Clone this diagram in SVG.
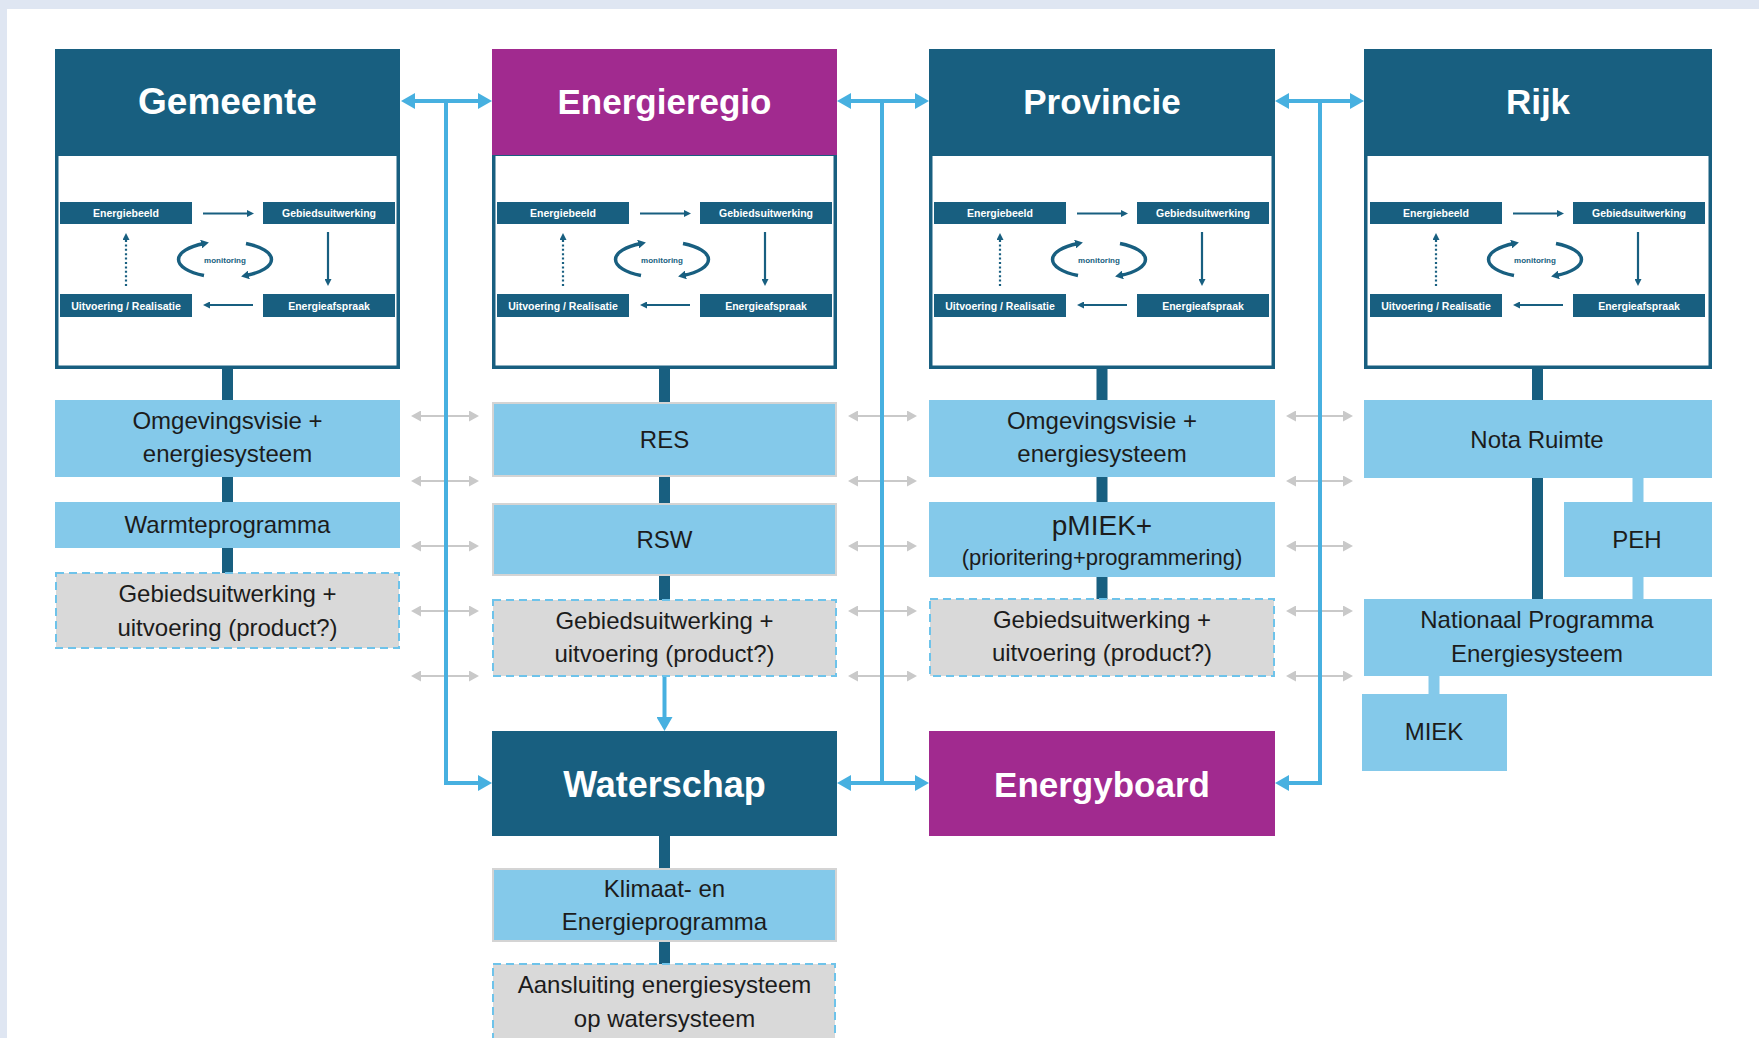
<svg xmlns="http://www.w3.org/2000/svg" width="1759" height="1038" viewBox="0 0 1759 1038">
<style>
.frame{fill:#185f80}
.inner{fill:#ffffff}
.hd{fill:#185f80}
.hp{fill:#a12a8f}
.title{font-family:"Liberation Sans",Arial,sans-serif;font-weight:bold;font-size:35px;fill:#ffffff;text-anchor:middle}
.mbox{fill:#185f80}
.mtxt{font-family:"Liberation Sans",Arial,sans-serif;font-weight:bold;font-size:10.5px;fill:#ffffff;text-anchor:middle}
.mon{font-family:"Liberation Sans",Arial,sans-serif;font-weight:bold;font-size:8px;fill:#185f80;text-anchor:middle}
.marrow{stroke:#185f80;stroke-width:2.2;fill:none;marker-end:url(#mHead)}
.mdot{stroke:#185f80;stroke-width:2.2;fill:none;stroke-dasharray:2 2.4;marker-end:url(#mHead)}
.arc{stroke:#185f80;stroke-width:3.5;fill:none;marker-end:url(#arcHead)}
.lb{fill:#84c9ea}
.lbb{fill:#84c9ea;stroke:#d4d4d4;stroke-width:2}
.gb{fill:#d9d9d9;stroke:#6ec3ea;stroke-width:2;stroke-dasharray:8 5}
.txt{font-family:"Liberation Sans",Arial,sans-serif;font-size:24px;fill:#1c1c1c;text-anchor:middle}
.stem{stroke:#185f80;stroke-width:11;fill:none}
.lstem{stroke:#84c9ea;stroke-width:11;fill:none}
.conn{stroke:#47b0e0;stroke-width:4;fill:none}
.both{marker-start:url(#bHead);marker-end:url(#bHead)}
.end{marker-end:url(#bHead)}
.gray{stroke:#c9c9c9;stroke-width:2;fill:none;marker-start:url(#gHead);marker-end:url(#gHead)}
</style>
<defs>
<marker id="mHead" markerUnits="userSpaceOnUse" viewBox="0 0 7 7" markerWidth="7" markerHeight="7" refX="2" refY="3.5" orient="auto"><path d="M0,0 L7,3.5 L0,7 z" fill="#185f80"/></marker>
<marker id="arcHead" markerUnits="userSpaceOnUse" viewBox="0 0 8 9" markerWidth="8" markerHeight="9" refX="3" refY="4.5" orient="auto"><path d="M0,0 L8,4.5 L0,9 z" fill="#185f80"/></marker>
<marker id="bHead" markerUnits="userSpaceOnUse" viewBox="0 0 14 16" markerWidth="14" markerHeight="16" refX="8" refY="8" orient="auto-start-reverse"><path d="M0,0 L14,8 L0,16 z" fill="#47b0e0"/></marker>
<marker id="gHead" markerUnits="userSpaceOnUse" viewBox="0 0 10 11" markerWidth="10" markerHeight="11" refX="5" refY="5.5" orient="auto-start-reverse"><path d="M0,0 L10,5.5 L0,11 z" fill="#c9c9c9"/></marker>
</defs>

<rect x="0" y="0" width="1759" height="1038" fill="#ffffff"/>
<rect x="0" y="0" width="1759" height="9" fill="#dfe6f2"/>
<rect x="0" y="0" width="7" height="1038" fill="#dfe6f2"/>

<g id="connectors">
  <path class="gray" d="M416,416 H474"/>
  <path class="gray" d="M416,481 H474"/>
  <path class="gray" d="M416,546 H474"/>
  <path class="gray" d="M416,611 H474"/>
  <path class="gray" d="M416,676 H474"/>
  <path class="gray" d="M853,416 H912"/>
  <path class="gray" d="M853,481 H912"/>
  <path class="gray" d="M853,546 H912"/>
  <path class="gray" d="M853,611 H912"/>
  <path class="gray" d="M853,676 H912"/>
  <path class="gray" d="M1291,416 H1348"/>
  <path class="gray" d="M1291,481 H1348"/>
  <path class="gray" d="M1291,546 H1348"/>
  <path class="gray" d="M1291,611 H1348"/>
  <path class="gray" d="M1291,676 H1348"/>

  <path class="conn both" d="M407,101 H486"/>
  <path class="conn both" d="M843,101 H923"/>
  <path class="conn both" d="M1281,101 H1358"/>
  <path class="conn end" d="M446,101 V783 H486"/>
  <path class="conn" d="M882,101 V783"/>
  <path class="conn both" d="M843,783 H923"/>
  <path class="conn end" d="M1320,101 V783 H1281"/>
  <path class="conn end" d="M664.5,676 V725"/>

  <path class="stem" d="M227.5,366 V400 M227.5,477 V502 M227.5,548 V573"/>
  <path class="stem" d="M664.5,366 V402 M664.5,477 V503 M664.5,576 V600"/>
  <path class="stem" d="M1102,366 V400 M1102,477 V502 M1102,577 V599"/>
  <path class="stem" d="M1537.5,366 V400 M1537.5,478 V599"/>
  <path class="stem" d="M664.5,836 V868 M664.5,942 V964"/>
  <path class="lstem" d="M1638,478 V502 M1638,577 V599"/>
  <path class="lstem" d="M1434,676 V694"/>
</g>

<g id="gemeente">
  <rect class="frame" x="55" y="150" width="345" height="219"/>
  <rect class="inner" x="58.5" y="156" width="338" height="209.5"/>
  <rect class="hd" x="55" y="49" width="345" height="106"/>
  <text class="title" x="227.5" y="114" style="font-size:37px">Gemeente</text>
  <rect class="mbox" x="60" y="202" width="132" height="22"/>
  <rect class="mbox" x="263" y="202" width="132" height="22"/>
  <rect class="mbox" x="60" y="294" width="132" height="23"/>
  <rect class="mbox" x="263" y="294" width="132" height="23"/>
  <text class="mtxt" x="126" y="217">Energiebeeld</text>
  <text class="mtxt" x="329" y="217">Gebiedsuitwerking</text>
  <text class="mtxt" x="126" y="309.5">Uitvoering / Realisatie</text>
  <text class="mtxt" x="329" y="309.5">Energieafspraak</text>
  <path class="marrow" d="M203,213.5 H249"/>
  <path class="marrow" d="M328,232 V281"/>
  <path class="marrow" d="M253,305 H208"/>
  <path class="mdot" d="M126,286 V238"/>
  <path class="arc" d="M204,275.5 A47,18 0 0 1 204,243.5"/>
  <path class="arc" d="M246,243.5 A47,18 0 0 1 246,275.5"/>
  <text class="mon" x="225" y="262.5">monitoring</text>
  <rect class="lb" x="55" y="400" width="345" height="77"/>
  <text class="txt" x="227.5" y="429">Omgevingsvisie +</text>
  <text class="txt" x="227.5" y="462">energiesysteem</text>
  <rect class="lb" x="55" y="502" width="345" height="46"/>
  <text class="txt" x="227.5" y="533">Warmteprogramma</text>
  <rect class="gb" x="56" y="573" width="343" height="75"/>
  <text class="txt" x="227.5" y="602">Gebiedsuitwerking +</text>
  <text class="txt" x="227.5" y="636">uitvoering (product?)</text>
</g>

<g id="energieregio">
  <rect class="frame" x="492" y="150" width="345" height="219"/>
  <rect class="inner" x="495.5" y="156" width="338" height="209.5"/>
  <rect class="hp" x="492" y="49" width="345" height="106"/>
  <text class="title" x="664.5" y="114">Energieregio</text>
  <rect class="mbox" x="497" y="202" width="132" height="22"/>
  <rect class="mbox" x="700" y="202" width="132" height="22"/>
  <rect class="mbox" x="497" y="294" width="132" height="23"/>
  <rect class="mbox" x="700" y="294" width="132" height="23"/>
  <text class="mtxt" x="563" y="217">Energiebeeld</text>
  <text class="mtxt" x="766" y="217">Gebiedsuitwerking</text>
  <text class="mtxt" x="563" y="309.5">Uitvoering / Realisatie</text>
  <text class="mtxt" x="766" y="309.5">Energieafspraak</text>
  <path class="marrow" d="M640,213.5 H686"/>
  <path class="marrow" d="M765,232 V281"/>
  <path class="marrow" d="M690,305 H645"/>
  <path class="mdot" d="M563,286 V238"/>
  <path class="arc" d="M641,275.5 A47,18 0 0 1 641,243.5"/>
  <path class="arc" d="M683,243.5 A47,18 0 0 1 683,275.5"/>
  <text class="mon" x="662" y="262.5">monitoring</text>
  <rect class="lbb" x="493" y="403" width="343" height="73"/>
  <text class="txt" x="664.5" y="448">RES</text>
  <rect class="lbb" x="493" y="504" width="343" height="71"/>
  <text class="txt" x="664.5" y="548">RSW</text>
  <rect class="gb" x="493" y="600" width="343" height="76"/>
  <text class="txt" x="664.5" y="629">Gebiedsuitwerking +</text>
  <text class="txt" x="664.5" y="662">uitvoering (product?)</text>
</g>

<g id="provincie">
  <rect class="frame" x="929" y="150" width="346" height="219"/>
  <rect class="inner" x="932.5" y="156" width="339" height="209.5"/>
  <rect class="hd" x="929" y="49" width="346" height="106"/>
  <text class="title" x="1102" y="114">Provincie</text>
  <rect class="mbox" x="934" y="202" width="132" height="22"/>
  <rect class="mbox" x="1137" y="202" width="132" height="22"/>
  <rect class="mbox" x="934" y="294" width="132" height="23"/>
  <rect class="mbox" x="1137" y="294" width="132" height="23"/>
  <text class="mtxt" x="1000" y="217">Energiebeeld</text>
  <text class="mtxt" x="1203" y="217">Gebiedsuitwerking</text>
  <text class="mtxt" x="1000" y="309.5">Uitvoering / Realisatie</text>
  <text class="mtxt" x="1203" y="309.5">Energieafspraak</text>
  <path class="marrow" d="M1077,213.5 H1123"/>
  <path class="marrow" d="M1202,232 V281"/>
  <path class="marrow" d="M1127,305 H1082"/>
  <path class="mdot" d="M1000,286 V238"/>
  <path class="arc" d="M1078,275.5 A47,18 0 0 1 1078,243.5"/>
  <path class="arc" d="M1120,243.5 A47,18 0 0 1 1120,275.5"/>
  <text class="mon" x="1099" y="262.5">monitoring</text>
  <rect class="lb" x="929" y="400" width="346" height="77"/>
  <text class="txt" x="1102" y="429">Omgevingsvisie +</text>
  <text class="txt" x="1102" y="462">energiesysteem</text>
  <rect class="lb" x="929" y="502" width="346" height="75"/>
  <text class="txt" x="1102" y="535" style="font-size:28px">pMIEK+</text>
  <text class="txt" x="1102" y="565" style="font-size:22px">(prioritering+programmering)</text>
  <rect class="gb" x="930" y="599" width="344" height="77"/>
  <text class="txt" x="1102" y="628">Gebiedsuitwerking +</text>
  <text class="txt" x="1102" y="661">uitvoering (product?)</text>
</g>

<g id="rijk">
  <rect class="frame" x="1364" y="150" width="348" height="219"/>
  <rect class="inner" x="1367.5" y="156" width="341" height="209.5"/>
  <rect class="hd" x="1364" y="49" width="348" height="106"/>
  <text class="title" x="1538" y="114">Rijk</text>
  <rect class="mbox" x="1370" y="202" width="132" height="22"/>
  <rect class="mbox" x="1573" y="202" width="132" height="22"/>
  <rect class="mbox" x="1370" y="294" width="132" height="23"/>
  <rect class="mbox" x="1573" y="294" width="132" height="23"/>
  <text class="mtxt" x="1436" y="217">Energiebeeld</text>
  <text class="mtxt" x="1639" y="217">Gebiedsuitwerking</text>
  <text class="mtxt" x="1436" y="309.5">Uitvoering / Realisatie</text>
  <text class="mtxt" x="1639" y="309.5">Energieafspraak</text>
  <path class="marrow" d="M1513,213.5 H1559"/>
  <path class="marrow" d="M1638,232 V281"/>
  <path class="marrow" d="M1563,305 H1518"/>
  <path class="mdot" d="M1436,286 V238"/>
  <path class="arc" d="M1514,275.5 A47,18 0 0 1 1514,243.5"/>
  <path class="arc" d="M1556,243.5 A47,18 0 0 1 1556,275.5"/>
  <text class="mon" x="1535" y="262.5">monitoring</text>
</g>

<g id="nota-ruimte">
  <rect class="lb" x="1364" y="400" width="348" height="78"/>
  <text class="txt" x="1537" y="448">Nota Ruimte</text>
</g>
<g id="peh">
  <rect class="lb" x="1564" y="502" width="148" height="75"/>
  <text class="txt" x="1637" y="548">PEH</text>
</g>
<g id="nationaal-programma">
  <rect class="lb" x="1364" y="599" width="348" height="77"/>
  <text class="txt" x="1537" y="628">Nationaal Programma</text>
  <text class="txt" x="1537" y="662">Energiesysteem</text>
</g>
<g id="miek">
  <rect class="lb" x="1362" y="694" width="145" height="77"/>
  <text class="txt" x="1434" y="740">MIEK</text>
</g>

<g id="waterschap">
  <rect class="hd" x="492" y="731" width="345" height="105"/>
  <text class="title" x="664.5" y="797" style="font-size:36px">Waterschap</text>
  <rect class="lbb" x="493" y="869" width="343" height="72"/>
  <text class="txt" x="664.5" y="897">Klimaat- en</text>
  <text class="txt" x="664.5" y="930">Energieprogramma</text>
  <rect class="gb" x="493" y="964" width="342" height="80"/>
  <text class="txt" x="664.5" y="993">Aansluiting energiesysteem</text>
  <text class="txt" x="664.5" y="1027">op watersysteem</text>
</g>

<g id="energyboard">
  <rect class="hp" x="929" y="731" width="346" height="105"/>
  <text class="title" x="1102" y="797" style="font-size:35px">Energyboard</text>
</g>
</svg>
